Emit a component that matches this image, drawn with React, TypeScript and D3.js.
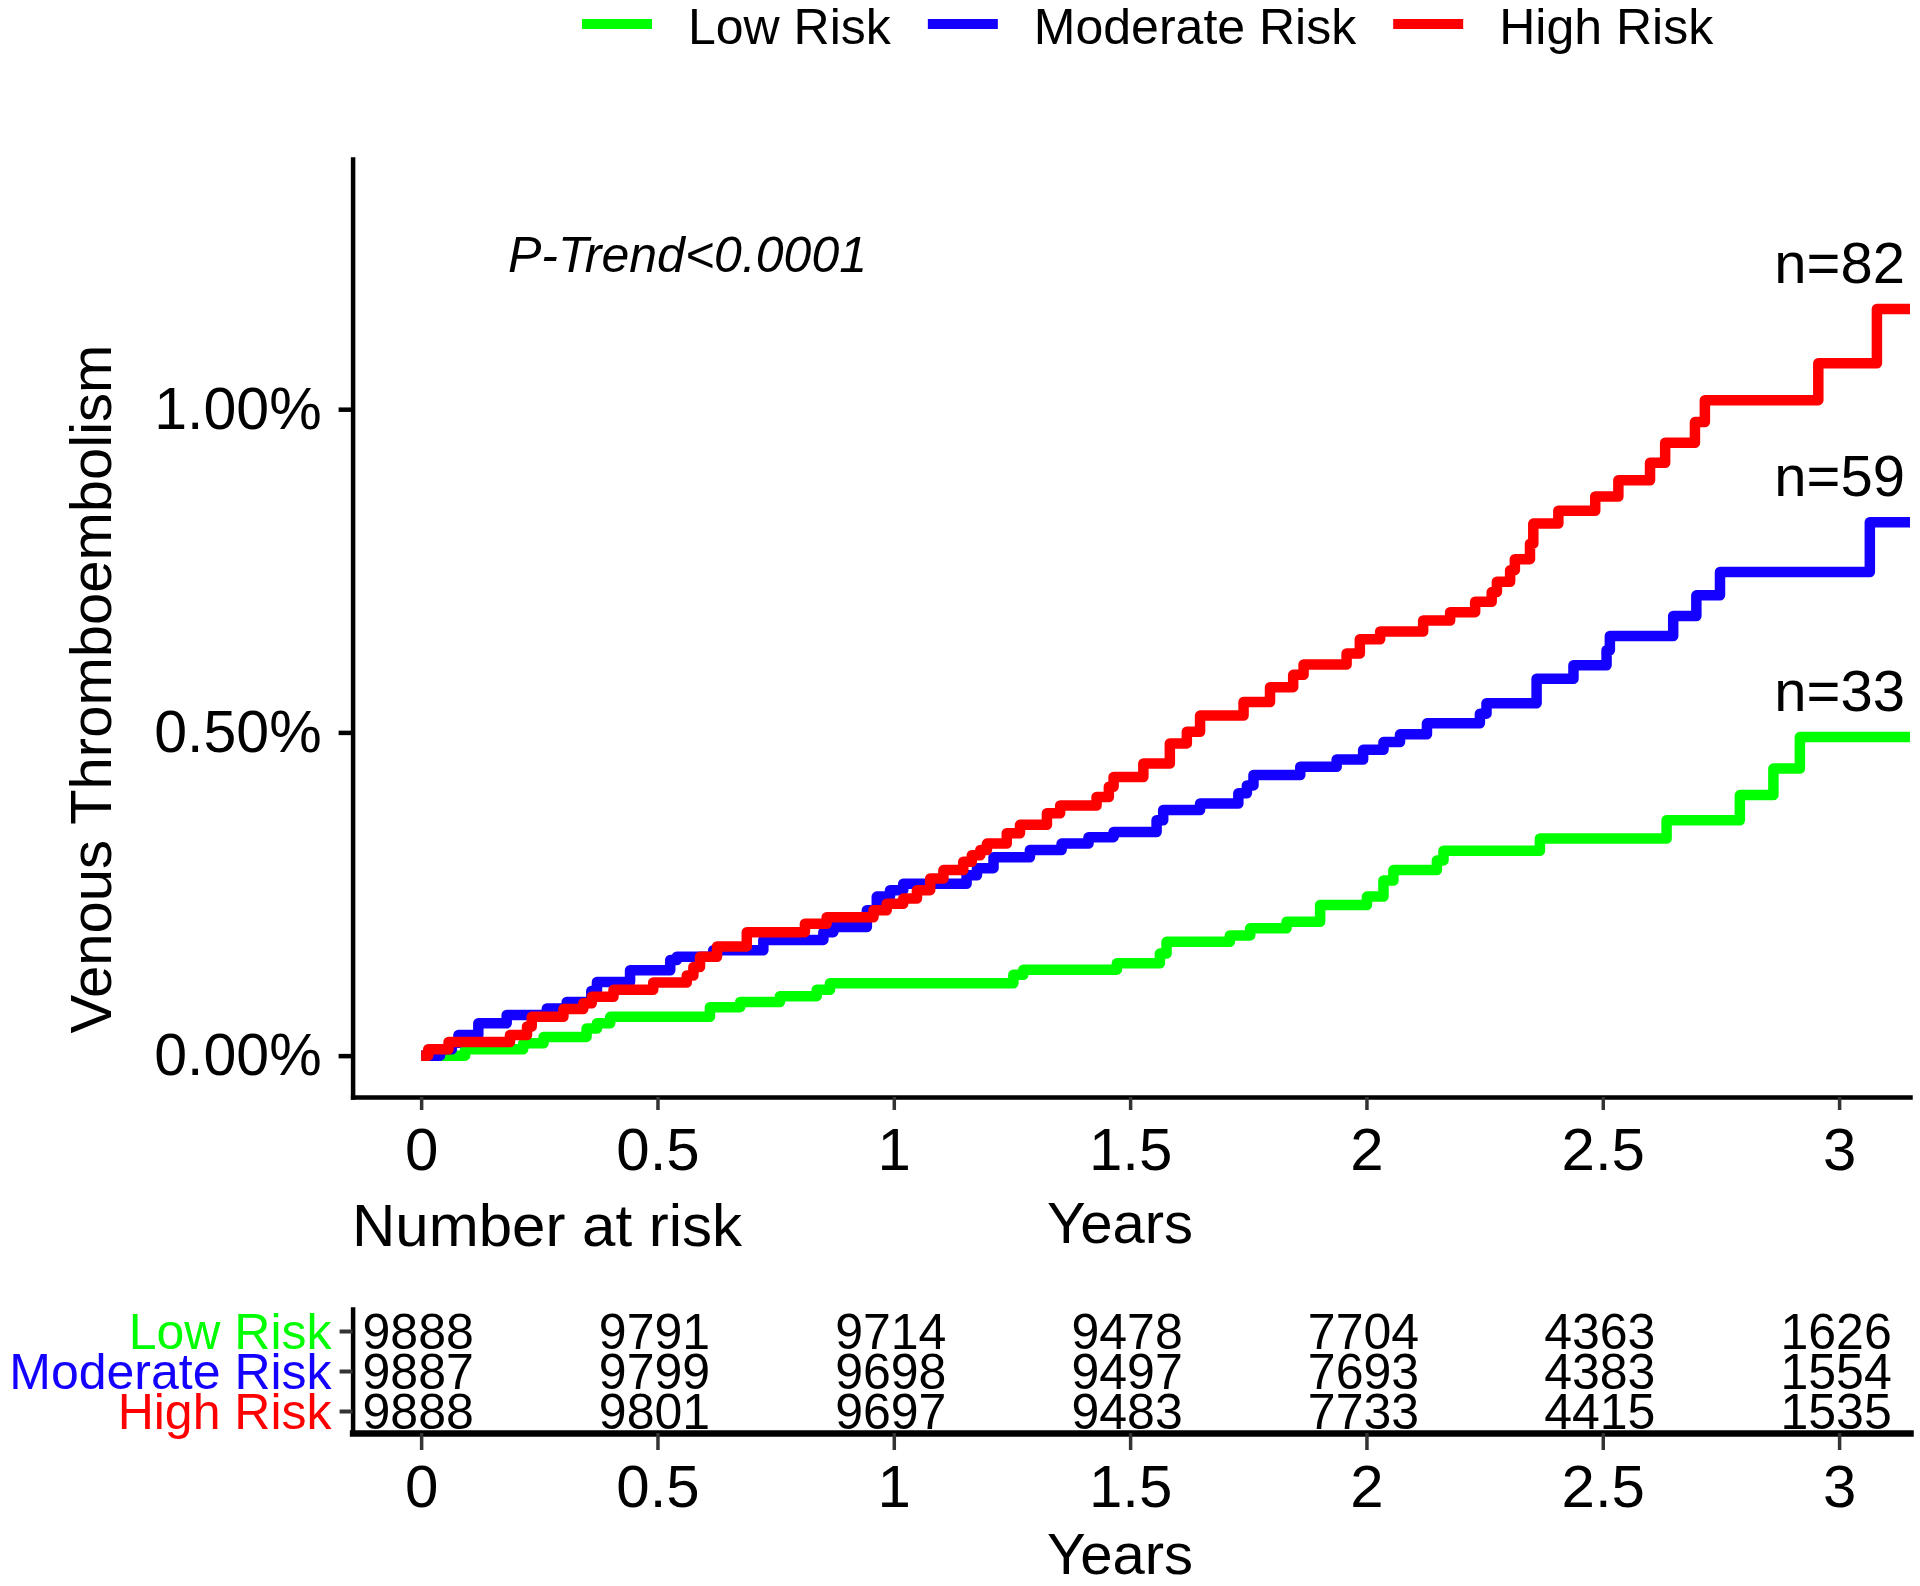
import React, { useEffect, useRef } from "react";
import * as d3 from "d3";

// groups, colours
const groupNames = ["Low Risk", "Moderate Risk", "High Risk"];
const groupColors = ["#00ff00", "#1400ff", "#ff0000"];

// cumulative incidence (%), step after each time (years)
const lowTimes = [0, 0.093, 0.216, 0.259, 0.35, 0.372, 0.4, 0.611, 0.675, 0.759, 0.837, 0.865, 1.253, 1.274, 1.472, 1.563, 1.577, 1.711, 1.754, 1.831, 1.902, 2.001, 2.036, 2.057, 2.149, 2.163, 2.367, 2.635, 2.79, 2.861, 2.917];
const lowPct = [0, 0.01, 0.019, 0.029, 0.042, 0.05, 0.06, 0.075, 0.083, 0.092, 0.102, 0.112, 0.125, 0.133, 0.143, 0.158, 0.176, 0.186, 0.197, 0.207, 0.233, 0.246, 0.271, 0.287, 0.302, 0.317, 0.336, 0.364, 0.403, 0.444, 0.493];

const modTimes = [0, 0.04, 0.065, 0.079, 0.121, 0.181, 0.266, 0.308, 0.36, 0.372, 0.442, 0.527, 0.541, 0.618, 0.724, 0.851, 0.872, 0.943, 0.964, 0.992, 1.02, 1.154, 1.176, 1.211, 1.288, 1.355, 1.412, 1.465, 1.556, 1.57, 1.648, 1.729, 1.747, 1.761, 1.86, 1.937, 1.993, 2.036, 2.071, 2.128, 2.24, 2.254, 2.36, 2.438, 2.508, 2.515, 2.649, 2.698, 2.748, 3.065];
const modPct = [0, 0.01, 0.02, 0.032, 0.05, 0.063, 0.073, 0.083, 0.1, 0.114, 0.132, 0.148, 0.153, 0.163, 0.179, 0.191, 0.199, 0.225, 0.246, 0.256, 0.266, 0.279, 0.29, 0.307, 0.318, 0.328, 0.338, 0.346, 0.364, 0.38, 0.39, 0.406, 0.418, 0.434, 0.447, 0.458, 0.473, 0.485, 0.497, 0.514, 0.529, 0.545, 0.583, 0.604, 0.627, 0.649, 0.68, 0.712, 0.748, 0.825];

const highTimes = [0, 0.015, 0.058, 0.188, 0.224, 0.234, 0.301, 0.343, 0.361, 0.407, 0.491, 0.562, 0.576, 0.59, 0.626, 0.689, 0.812, 0.858, 0.957, 0.985, 1.02, 1.049, 1.077, 1.105, 1.147, 1.165, 1.183, 1.197, 1.239, 1.267, 1.324, 1.352, 1.429, 1.455, 1.465, 1.528, 1.584, 1.62, 1.648, 1.74, 1.796, 1.845, 1.867, 1.958, 1.986, 2.029, 2.12, 2.177, 2.23, 2.265, 2.276, 2.304, 2.314, 2.346, 2.353, 2.406, 2.484, 2.533, 2.6, 2.632, 2.695, 2.716, 2.956, 3.08];
const highPct = [0, 0.01, 0.021, 0.032, 0.045, 0.06, 0.072, 0.081, 0.091, 0.102, 0.113, 0.124, 0.137, 0.153, 0.169, 0.191, 0.204, 0.214, 0.225, 0.235, 0.243, 0.256, 0.274, 0.287, 0.3, 0.31, 0.318, 0.328, 0.344, 0.357, 0.375, 0.387, 0.4, 0.416, 0.431, 0.452, 0.483, 0.501, 0.526, 0.547, 0.57, 0.589, 0.605, 0.622, 0.644, 0.656, 0.673, 0.686, 0.702, 0.717, 0.733, 0.751, 0.768, 0.792, 0.823, 0.843, 0.865, 0.89, 0.917, 0.948, 0.98, 1.014, 1.071, 1.155];

const eventLabels = ["n=33", "n=59", "n=82"];

// number at risk table
const riskTimes = [0, 0.5, 1, 1.5, 2, 2.5, 3];
const lowAtRisk = [9888, 9791, 9714, 9478, 7704, 4363, 1626];
const modAtRisk = [9887, 9799, 9698, 9497, 7693, 4383, 1554];
const highAtRisk = [9888, 9801, 9697, 9483, 7733, 4415, 1535];

const yTicks = [0, 0.5, 1];
const FONT = "'Liberation Sans', Arial, Helvetica, sans-serif";

const App = () => {
    const ref = useRef<SVGSVGElement>(null);

    useEffect(() => {
        const width = 1920;
        const height = 1586;
        const svg = d3.select(ref.current).attr("width", width).attr("height", height);
        svg.selectAll("*").remove();
        svg.style("font-family", FONT);

        const xMax = 3.15;
        const xScale = d3.scaleLinear().domain([-0.145, xMax]).range([352.6, 1910]);
        const yScale = d3.scaleLinear().domain([-0.064, 1.387]).range([1097, 159]);

        const series = [
            { times: lowTimes, pct: lowPct },
            { times: modTimes, pct: modPct },
            { times: highTimes, pct: highPct },
        ].map((s) => {
            const pts = s.times.map((t, i) => ({ t, v: s.pct[i] }));
            pts.push({ t: xMax, v: s.pct[s.pct.length - 1] });
            return pts;
        });

        // Legend
        const legend = svg.append("g");
        let lx = 582;
        groupNames.forEach((name, i) => {
            legend.append("line")
                .attr("x1", lx).attr("x2", lx + 70)
                .attr("y1", 24).attr("y2", 24)
                .attr("stroke", groupColors[i]).attr("stroke-width", 10);
            const txt = legend.append("text")
                .attr("x", lx + 106).attr("y", 44)
                .attr("font-size", 50).attr("fill", "#000")
                .text(name);
            const w = (txt.node() as SVGTextElement).getComputedTextLength();
            lx = lx + 106 + w + 37;
        });

        // Curves
        const line = d3.line<{ t: number; v: number }>()
            .x((d) => xScale(d.t))
            .y((d) => yScale(d.v))
            .curve(d3.curveStepAfter);

        svg.append("g").selectAll("path")
            .data(series)
            .join("path")
            .attr("d", (d) => line(d))
            .attr("fill", "none")
            .attr("stroke", (d, i) => groupColors[i])
            .attr("stroke-width", 10.5)
            .attr("stroke-linejoin", "round");

        // Axes
        const yAxis = svg.append("g")
            .attr("transform", `translate(${xScale(-0.145)},0)`)
            .call(d3.axisLeft(yScale).tickValues(yTicks).tickSize(14).tickSizeOuter(0).tickPadding(17)
                .tickFormat((d) => (+d).toFixed(2) + "%"));
        yAxis.select(".domain").attr("stroke", "#000").attr("stroke-width", 4.5).attr("stroke-linecap", "square");
        yAxis.selectAll(".tick line").attr("stroke", "#000").attr("stroke-width", 4.5);
        yAxis.selectAll(".tick text").attr("font-size", 59).attr("font-family", FONT).attr("fill", "#000");

        const xAxis = svg.append("g")
            .attr("transform", `translate(0,${yScale(-0.064)})`)
            .call(d3.axisBottom(xScale).tickValues(riskTimes).tickSize(13).tickSizeOuter(0)
                .tickFormat((d) => String(d)));
        xAxis.select(".domain").attr("stroke", "#000").attr("stroke-width", 4.5).attr("stroke-linecap", "square");
        xAxis.selectAll(".tick line").attr("stroke", "#333").attr("stroke-width", 3.5);
        xAxis.selectAll(".tick text").attr("font-size", 60).attr("font-family", FONT).attr("fill", "#000")
            .attr("y", 73).attr("dy", null);

        // Titles
        svg.append("text")
            .attr("transform", "translate(111,689) rotate(-90)")
            .attr("text-anchor", "middle")
            .attr("font-size", 58)
            .text("Venous Thromboembolism");

        svg.append("text")
            .attr("x", 1120).attr("y", 1243)
            .attr("text-anchor", "middle")
            .attr("font-size", 58)
            .text("Years");

        svg.append("text")
            .attr("x", 352).attr("y", 1246)
            .attr("font-size", 60)
            .text("Number at risk");

        svg.append("text")
            .attr("x", 508).attr("y", 272)
            .attr("font-size", 50)
            .attr("font-style", "italic")
            .text("P-Trend<0.0001");

        // n labels at the end of each curve
        svg.append("g").selectAll("text")
            .data(series)
            .join("text")
            .attr("x", 1905)
            .attr("y", (d) => yScale(d[d.length - 1].v) - 26)
            .attr("text-anchor", "end")
            .attr("font-size", 58)
            .text((d, i) => eventLabels[i]);

        // Risk table
        const atRisk = [lowAtRisk, modAtRisk, highAtRisk];
        const rowScale = d3.scaleLinear().domain([-0.55, 2.55]).range([1309, 1433]);

        const tY = svg.append("g")
            .attr("transform", `translate(${xScale(-0.145)},0)`)
            .call(d3.axisLeft(rowScale).tickValues([0, 1, 2]).tickSize(13).tickSizeOuter(0).tickPadding(8)
                .tickFormat((d) => groupNames[+d]));
        tY.select(".domain").attr("stroke", "#000").attr("stroke-width", 4.5).attr("stroke-linecap", "square");
        tY.selectAll(".tick line").attr("stroke", "#333").attr("stroke-width", 4);
        tY.selectAll(".tick text").attr("font-size", 50).attr("font-family", FONT)
            .attr("fill", (d) => groupColors[+d]).attr("dy", "0.34em");

        const tX = svg.append("g")
            .attr("transform", `translate(0,${rowScale(2.55)})`)
            .call(d3.axisBottom(xScale).tickValues(riskTimes).tickSize(17).tickSizeOuter(0)
                .tickFormat((d) => String(d)));
        tX.select(".domain").attr("stroke", "#000").attr("stroke-width", 6.5).attr("stroke-linecap", "square");
        tX.selectAll(".tick line").attr("stroke", "#333").attr("stroke-width", 3.5);
        tX.selectAll(".tick text").attr("font-size", 60).attr("font-family", FONT).attr("fill", "#000")
            .attr("y", 74).attr("dy", null);

        atRisk.forEach((row, r) => {
            svg.append("g").selectAll("text")
                .data(row)
                .join("text")
                .attr("x", (d, i) => xScale(riskTimes[i]) - 3)
                .attr("y", rowScale(r) + 18)
                .attr("text-anchor", "middle")
                .attr("font-size", 50)
                .text((d) => String(d));
        });

        svg.append("text")
            .attr("x", 1120).attr("y", 1574)
            .attr("text-anchor", "middle")
            .attr("font-size", 58)
            .text("Years");
    }, []);

    return (
        <svg ref={ref} style={{ position: "absolute", left: 0, top: 0, background: "#fff" }} />
    );
};

export default App;
